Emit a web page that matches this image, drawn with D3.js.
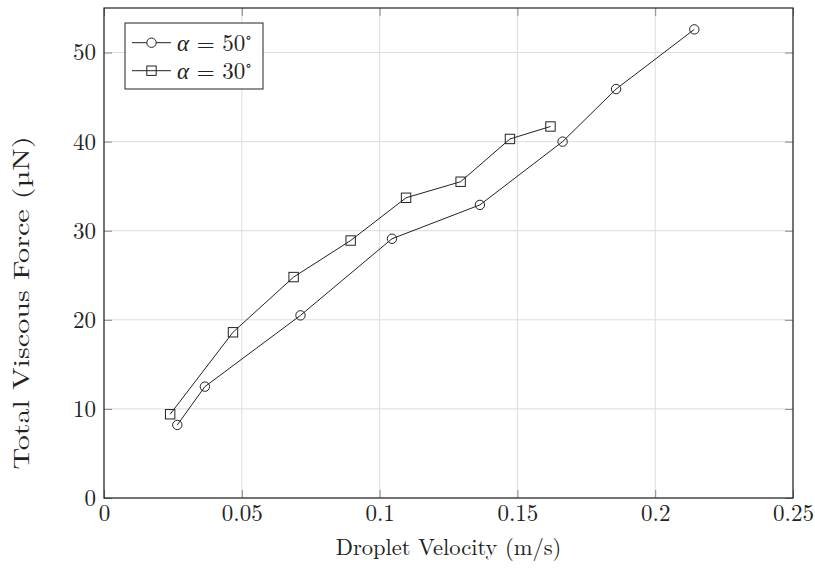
<!DOCTYPE html>
<html>
<head>
<meta charset="utf-8">
<script src="https://cdn.jsdelivr.net/npm/d3@7"></script>
<style>
  body { margin: 0; background: #fff; }
  text { font-family: "Latin Modern Roman", "Liberation Serif", "DejaVu Serif", serif; fill: #222; }
</style>
</head>
<body>
<script>
// Data
const alpha50X = [0.0266, 0.0366, 0.0713, 0.1045, 0.1364, 0.1664, 0.1858, 0.2142];
const alpha50Y = [8.2, 12.5, 20.5, 29.1, 32.9, 40.0, 45.9, 52.6];
const alpha30X = [0.0240, 0.0468, 0.0688, 0.0895, 0.1096, 0.1294, 0.1473, 0.1620];
const alpha30Y = [9.4, 18.6, 24.8, 28.9, 33.7, 35.5, 40.3, 41.7];
const xTicks = [0, 0.05, 0.1, 0.15, 0.2, 0.25];
const yTicks = [0, 10, 20, 30, 40, 50];
const seriesNames = ["50", "30"];

const width = 815, height = 568;
const margin = { top: 8, right: 22, bottom: 70, left: 104 };

const svg = d3.select("body").append("svg")
    .attr("width", width)
    .attr("height", height);

const xScale = d3.scaleLinear()
    .domain([0, 0.25])
    .range([margin.left, width - margin.right]);

const yScale = d3.scaleLinear()
    .domain([0, 55])
    .range([height - margin.bottom, margin.top]);

// Grid
svg.append("g")
    .selectAll("line")
    .data(xTicks)
    .enter().append("line")
    .attr("x1", d => xScale(d)).attr("x2", d => xScale(d))
    .attr("y1", yScale(0)).attr("y2", yScale(55))
    .attr("stroke", "#dcdcdc").attr("stroke-width", 1);

svg.append("g")
    .selectAll("line")
    .data(yTicks)
    .enter().append("line")
    .attr("x1", xScale(0)).attr("x2", xScale(0.25))
    .attr("y1", d => yScale(d)).attr("y2", d => yScale(d))
    .attr("stroke", "#dcdcdc").attr("stroke-width", 1);

// Axes (ticks inside, on both sides)
const tickLen = 8;
function axisStyle(g) {
  g.select(".domain").remove();
  g.selectAll(".tick line").attr("stroke", "#888").attr("stroke-width", 1);
  g.selectAll(".tick text").style("font-size", "23px").attr("fill", "#222");
}

svg.append("g")
    .attr("transform", `translate(0,${yScale(0)})`)
    .call(d3.axisBottom(xScale).tickValues(xTicks).tickFormat(d3.format("")).tickSizeInner(-tickLen).tickSizeOuter(0).tickPadding(7))
    .call(axisStyle);

svg.append("g")
    .attr("transform", `translate(0,${yScale(55)})`)
    .call(d3.axisTop(xScale).tickValues(xTicks).tickFormat("").tickSizeInner(-tickLen).tickSizeOuter(0))
    .call(axisStyle);

svg.append("g")
    .attr("transform", `translate(${xScale(0)},0)`)
    .call(d3.axisLeft(yScale).tickValues(yTicks).tickSizeInner(-tickLen).tickSizeOuter(0).tickPadding(8))
    .call(axisStyle);

svg.append("g")
    .attr("transform", `translate(${xScale(0.25)},0)`)
    .call(d3.axisRight(yScale).tickValues(yTicks).tickFormat("").tickSizeInner(-tickLen).tickSizeOuter(0))
    .call(axisStyle);

// Frame
svg.append("rect")
    .attr("x", xScale(0)).attr("y", yScale(55))
    .attr("width", xScale(0.25) - xScale(0))
    .attr("height", yScale(0) - yScale(55))
    .attr("fill", "none").attr("stroke", "#222").attr("stroke-width", 1.2);

// Axis labels
svg.append("text")
    .attr("x", (xScale(0) + xScale(0.25)) / 2)
    .attr("y", 555)
    .attr("text-anchor", "middle")
    .style("font-size", "22.5px")
    .text("Droplet Velocity (m/s)");

// y label is drawn stretched along its length, as in the reference
svg.append("text")
    .attr("transform", "translate(29,303) rotate(-90) scale(1.34,1)")
    .attr("text-anchor", "middle")
    .style("font-size", "22.5px")
    .text("Total Viscous Force (\u00B5N)");

// Series
const line = d3.line().x(d => xScale(d[0])).y(d => yScale(d[1]));
const s50 = alpha50X.map((x, i) => [x, alpha50Y[i]]);
const s30 = alpha30X.map((x, i) => [x, alpha30Y[i]]);

function drawCircles(g, pts) {
  g.selectAll("circle").data(pts).enter().append("circle")
    .attr("cx", d => xScale(d[0])).attr("cy", d => yScale(d[1]))
    .attr("r", 4.7)
    .attr("fill", "none").attr("stroke", "#222").attr("stroke-width", 1);
}
function drawSquares(g, pts) {
  g.selectAll("rect").data(pts).enter().append("rect")
    .attr("x", d => xScale(d[0]) - 4.7).attr("y", d => yScale(d[1]) - 4.7)
    .attr("width", 9.4).attr("height", 9.4)
    .attr("fill", "none").attr("stroke", "#222").attr("stroke-width", 1);
}

svg.append("path").datum(s50).attr("d", line)
    .attr("fill", "none").attr("stroke", "#222").attr("stroke-width", 1);
drawCircles(svg.append("g"), s50);

svg.append("path").datum(s30).attr("d", line)
    .attr("fill", "none").attr("stroke", "#222").attr("stroke-width", 1);
drawSquares(svg.append("g"), s30);

// Legend
const legend = svg.append("g");
legend.append("rect")
    .attr("x", 125).attr("y", 23).attr("width", 138).attr("height", 66)
    .attr("fill", "#fff").attr("stroke", "#222").attr("stroke-width", 1);

seriesNames.forEach((name, i) => {
  const y = 42.7 + i * 28;
  legend.append("line")
      .attr("x1", 132).attr("x2", 171).attr("y1", y).attr("y2", y)
      .attr("stroke", "#222").attr("stroke-width", 1);
  if (i === 0) {
    legend.append("circle").attr("cx", 151.5).attr("cy", y).attr("r", 4.7)
        .attr("fill", "#fff").attr("stroke", "#222");
  } else {
    legend.append("rect").attr("x", 151.5 - 4.7).attr("y", y - 4.7)
        .attr("width", 9.4).attr("height", 9.4)
        .attr("fill", "none").attr("stroke", "#222");
  }
  const t = legend.append("text")
      .attr("x", 177).attr("y", y + 8)
      .style("font-size", "23px");
  t.append("tspan").style("font-style", "italic").text("\u03B1");
  t.append("tspan").text(" = " + name);
  t.append("tspan").attr("dy", -9).style("font-size", "14px").text("\u2218");
});
</script>
</body>
</html>
